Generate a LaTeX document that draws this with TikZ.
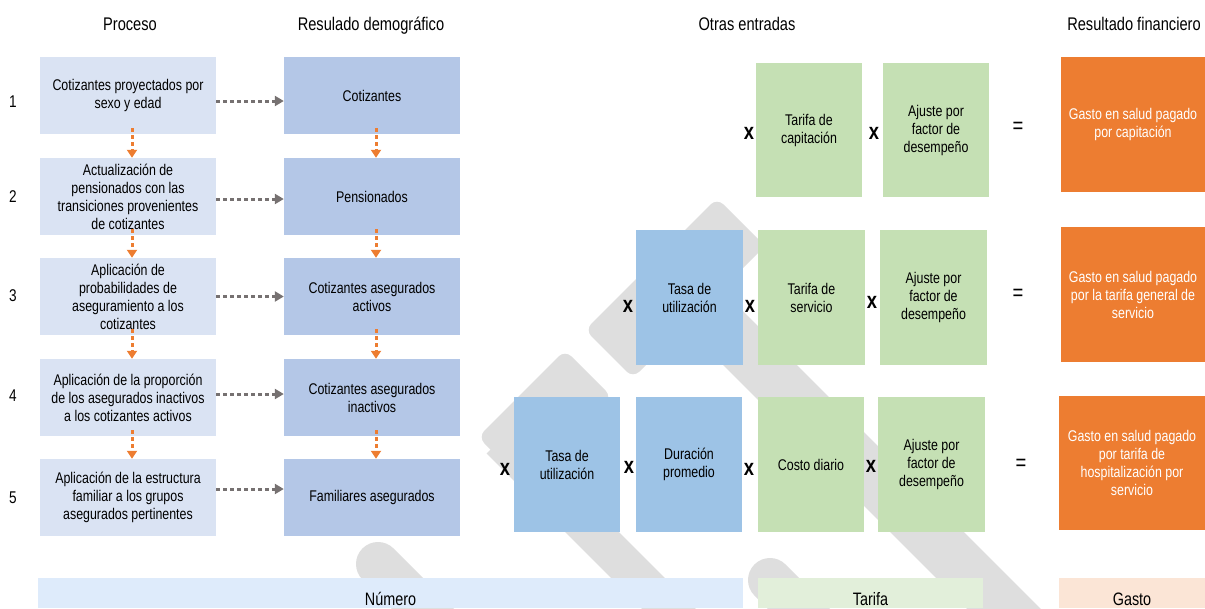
\documentclass[tikz,border=0pt]{standalone}
\usepackage{fontspec}
\setmainfont{Liberation Sans}[FakeStretch=0.8]
\usetikzlibrary{arrows.meta}
\definecolor{pLight}{HTML}{DAE3F3}
\definecolor{rBlue}{HTML}{B4C7E7}
\definecolor{uBlue}{HTML}{9DC3E6}
\definecolor{gGreen}{HTML}{C5E0B4}
\definecolor{oOrange}{HTML}{ED7D31}
\definecolor{barBlue}{HTML}{DEEBFB}
\definecolor{barGreen}{HTML}{E2EFDA}
\definecolor{barOrange}{HTML}{FBE5D6}
\definecolor{wmGrey}{HTML}{DEDEDE}
\definecolor{aGrey}{HTML}{767171}
\begin{document}
\begin{tikzpicture}[x=1pt,y=-1pt,
  box/.style={draw=none, inner sep=2pt, align=center, text=black,
    font=\fontsize{15.5}{18}\selectfont},
  pbox/.style={box, fill=pLight, minimum width=176pt, minimum height=77pt},
  rbox/.style={box, fill=rBlue, minimum width=176pt, minimum height=77pt},
  ubox/.style={box, fill=uBlue, minimum width=106pt, minimum height=135pt},
  gbox/.style={box, fill=gGreen, minimum width=106pt, minimum height=135pt},
  obox/.style={box, fill=oOrange, text=white, minimum width=144pt, minimum height=135pt},
  barnode/.style={draw=none, inner sep=0pt, minimum height=30pt},
  bartext/.style={inner sep=0pt, anchor=base, font=\fontsize{18}{20}\selectfont},
  title/.style={inner sep=0pt, anchor=base, font=\fontsize{18.3}{20}\selectfont},
  numlab/.style={inner sep=0pt, anchor=base, font=\fontsize{17}{19}\selectfont},
  times/.style={inner sep=0pt, font=\fontsize{23}{24}\selectfont\bfseries},
  equals/.style={inner sep=0pt, font=\fontsize{23}{24}\selectfont},
  garrow/.style={draw=aGrey, line width=3pt, dash pattern=on 4pt off 3pt,
    -{Triangle[length=9pt,width=10pt]}},
  oarrow/.style={draw=oOrange, line width=3pt, dash pattern=on 4pt off 3pt,
    -{Triangle[length=8pt,width=10pt]}},
  wmfill/.style={fill=wmGrey, rounded corners=9pt},
  wmbar/.style={draw=wmGrey}
]
\useasboundingbox (0,0) rectangle (1205,608);
\begin{scope}
\clip (0,0) rectangle (1205,608);
% watermark
\fill[wmfill] (585,330) -- (717,198) -- (765,246) -- (633,378) -- cycle;
\draw[wmbar, line width=52pt] (680,285) -- (1090,695);
\fill[wmfill] (478,437) -- (565,350) -- (612,397) -- (525,484) -- cycle;
\draw[wmbar, line width=38pt] (500,440) -- (770,710);
\draw[wmbar, line width=44pt, line cap=round] (378,564) -- (480,666);
\draw[wmbar, line width=44pt, line cap=round] (770,580) -- (870,680);
\end{scope}

% headers
\node[title] (h1) at (130,30) {Proceso};
\node[title] (h2) at (371,30) {Resulado demográfico};
\node[title] (h3) at (747,30) {Otras entradas};
\node[title] (h4) at (1134,30) {Resultado financiero};

% row numbers
\node[numlab] (n1) at (13,107) {1};
\node[numlab] (n2) at (13,202) {2};
\node[numlab] (n3) at (13,301) {3};
\node[numlab] (n4) at (13,401) {4};
\node[numlab] (n5) at (13,503) {5};

% process column
\node[pbox] (p1) at (128,95.5) {Cotizantes proyectados por\\sexo y edad};
\node[pbox] (p2) at (128,196.5) {Actualización de\\pensionados con las\\transiciones provenientes\\de cotizantes};
\node[pbox] (p3) at (128,296.5) {Aplicación de\\probabilidades de\\aseguramiento a los\\cotizantes};
\node[pbox] (p4) at (128,397.5) {Aplicación de la proporción\\de los asegurados inactivos\\a los cotizantes activos};
\node[pbox] (p5) at (128,497.5) {Aplicación de la estructura\\familiar a los grupos\\asegurados pertinentes};

% demographic result column
\node[rbox] (r1) at (372,95.5) {Cotizantes};
\node[rbox] (r2) at (372,196.5) {Pensionados};
\node[rbox] (r3) at (372,296.5) {Cotizantes asegurados\\activos};
\node[rbox] (r4) at (372,397.5) {Cotizantes asegurados\\inactivos};
\node[rbox] (r5) at (372,497.5) {Familiares asegurados};

% grey arrows
\draw[garrow] ([yshift=-5.5pt]p1.east) -- ([yshift=-5.5pt]r1.west);
\draw[garrow] ([yshift=-2.5pt]p2.east) -- ([yshift=-2.5pt]r2.west);
\draw[garrow] (p3.east) -- (r3.west);
\draw[garrow] ([yshift=3.5pt]p4.east) -- ([yshift=3.5pt]r4.west);
\draw[garrow] ([yshift=8.5pt]p5.east) -- ([yshift=8.5pt]r5.west);

% orange arrows
\draw[oarrow] ([xshift=4pt,yshift=6pt]p1.south) -- ([xshift=4pt]p2.north);
\draw[oarrow] ([xshift=4pt,yshift=6pt]p2.south) -- ([xshift=4pt]p3.north);
\draw[oarrow] ([xshift=4pt,yshift=6pt]p3.south) -- ([xshift=4pt]p4.north);
\draw[oarrow] ([xshift=4pt,yshift=6pt]p4.south) -- ([xshift=4pt]p5.north);
\draw[oarrow] ([xshift=4pt,yshift=6pt]r1.south) -- ([xshift=4pt]r2.north);
\draw[oarrow] ([xshift=4pt,yshift=6pt]r2.south) -- ([xshift=4pt]r3.north);
\draw[oarrow] ([xshift=4pt,yshift=6pt]r3.south) -- ([xshift=4pt]r4.north);
\draw[oarrow] ([xshift=4pt,yshift=6pt]r4.south) -- ([xshift=4pt]r5.north);

% row 1 (capitation)
\node[times] (x11) at (749,133) {x};
\node[gbox, minimum height=134pt] (g11) at (809,130) {Tarifa de\\capitación};
\node[times] (x12) at (874,133) {x};
\node[gbox, minimum height=134pt] (g12) at (936,130) {Ajuste por\\factor de\\desempeño};
\node[equals] (e1) at (1018,128) {=};
\node[obox] (o1) at (1133,124.5) {Gasto en salud pagado\\por capitación};

% row 2 (general service)
\node[times] (x21) at (628,306) {x};
\node[ubox, minimum width=107pt] (u21) at (689.5,297.5) {Tasa de\\utilización};
\node[times] (x22) at (750,306) {x};
\node[gbox, minimum width=107pt] (g21) at (811.5,297.5) {Tarifa de\\servicio};
\node[times] (x23) at (872,302) {x};
\node[gbox, minimum width=107pt] (g22) at (933.5,297.5) {Ajuste por\\factor de\\desempeño};
\node[equals] (e2) at (1018,295) {=};
\node[obox] (o2) at (1133,294.5) {Gasto en salud pagado\\por la tarifa general de\\servicio};

% row 3 (hospitalization)
\node[times] (x31) at (505,469) {x};
\node[ubox] (u31) at (567,464.5) {Tasa de\\utilización};
\node[times] (x32) at (629,467) {x};
\node[ubox] (u32) at (689,464.5) {Duración\\promedio};
\node[times] (x33) at (749,469) {x};
\node[gbox] (g31) at (811,464.5) {Costo diario};
\node[times] (x34) at (871,466) {x};
\node[gbox, minimum width=107pt] (g32) at (931.5,464.5) {Ajuste por\\factor de\\desempeño};
\node[equals] (e3) at (1021,465) {=};
\node[obox, minimum width=146pt, minimum height=134pt] (o3) at (1132,463) {Gasto en salud pagado\\por tarifa de\\hospitalización por\\servicio};

% bottom bars
\node[barnode, fill=barBlue, minimum width=705pt] (nb) at (390.5,593) {};
\node[bartext] (nbt) at ([yshift=3pt]nb.south) {Número};
\node[barnode, fill=barGreen, minimum width=225pt] (tb) at (870.5,593) {};
\node[bartext] (tbt) at ([yshift=3pt]tb.south) {Tarifa};
\node[barnode, fill=barOrange, minimum width=146pt] (gb) at (1132,593) {};
\node[bartext] (gbt) at ([yshift=3pt]gb.south) {Gasto};
\end{tikzpicture}
\end{document}
